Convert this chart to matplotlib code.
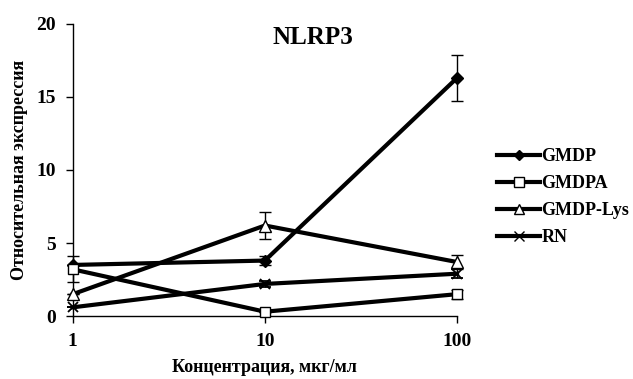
import matplotlib
matplotlib.use("Agg")
import matplotlib.pyplot as plt
from matplotlib.ticker import FixedLocator, NullLocator
from matplotlib.lines import Line2D

plt.rcParams['font.family'] = ['Liberation Serif', 'DejaVu Serif']
plt.rcParams['font.weight'] = 'bold'

concentrations = [1, 10, 100]
series_names = ["GMDP", "GMDPA", "GMDP-Lys", "RN"]
gmdp = [3.5, 3.8, 16.3]
gmdp_err = [0.0, 0.3, 1.6]
gmdpa = [3.2, 0.3, 1.5]
gmdpa_err = [0.9, 0.0, 0.3]
gmdp_lys = [1.5, 6.2, 3.7]
gmdp_lys_err = [0.0, 0.9, 0.5]
rn = [0.6, 2.2, 2.9]
rn_err = [0.0, 0.2, 0.3]
x_ticks = [1, 10, 100]
y_ticks = [0, 5, 10, 15, 20]

fig = plt.figure(figsize=(6.33, 3.79), dpi=100)
ax = fig.add_axes([0.115, 0.166, 0.607, 0.771])

styles = [
    dict(marker='D', markersize=6.5, markerfacecolor='black'),
    dict(marker='s', markersize=7.5, markerfacecolor='white'),
    dict(marker='^', markersize=8.5, markerfacecolor='white'),
    dict(marker='x', markersize=7, markeredgewidth=1.3),
]
legend_marker_sizes = [5.5, 7, 7, 6.5]
values = [gmdp, gmdpa, gmdp_lys, rn]
errors = [gmdp_err, gmdpa_err, gmdp_lys_err, rn_err]

handles = []
for name, vals, errs, st, lms in zip(series_names, values, errors, styles,
                                     legend_marker_sizes):
    ax.errorbar(concentrations, vals, yerr=errs, color='black', ecolor='black',
                elinewidth=1, capsize=4, capthick=1, linewidth=3,
                markeredgecolor='black', clip_on=False, zorder=3, **st)
    hst = dict(st)
    hst['markersize'] = lms
    hst['markeredgewidth'] = 1
    handles.append(Line2D([], [], color='black', linewidth=3,
                          markeredgecolor='black', label=name, **hst))

ax.set_xscale('log')
ax.set_xlim(1, 100)
ax.set_ylim(0, 20)
ax.xaxis.set_major_locator(FixedLocator(x_ticks))
ax.xaxis.set_minor_locator(NullLocator())
ax.set_xticklabels([str(v) for v in x_ticks])
ax.yaxis.set_major_locator(FixedLocator(y_ticks))
ax.tick_params(axis='both', labelsize=14, width=1, length=5, direction='out')
ax.tick_params(axis='x', pad=7)
ax.tick_params(axis='y', pad=7)
for side in ('top', 'right'):
    ax.spines[side].set_visible(False)
for side in ('left', 'bottom'):
    ax.spines[side].set_linewidth(1)

ax.set_xlabel("Концентрация, мкг/мл", fontsize=13, fontweight='bold', labelpad=7)
ax.set_ylabel("Относительная экспрессия", fontsize=13, fontweight='bold', labelpad=6)
ax.text(0.625, 0.955, "NLRP3", transform=ax.transAxes, ha='center', va='center',
        fontsize=18, fontweight='bold')

fig.legend(handles=handles, loc='center left', bbox_to_anchor=(0.785, 0.48),
           frameon=False, fontsize=13, handlelength=2.4, handletextpad=0.05,
           labelspacing=0.55, borderpad=0, borderaxespad=0)

fig.savefig("out.png", dpi=100)
